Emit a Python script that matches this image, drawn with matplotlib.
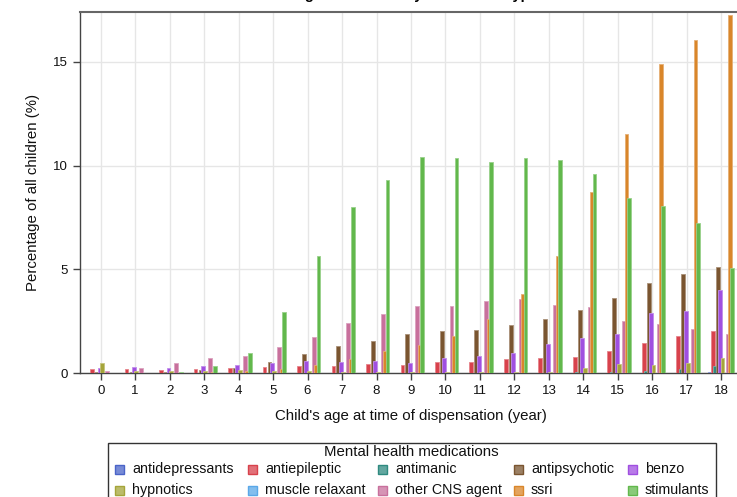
import numpy as np
import matplotlib
matplotlib.use("Agg")
import matplotlib.pyplot as plt
from matplotlib.patches import Rectangle
from matplotlib.colors import to_rgb

plt.rcParams['font.family'] = ['Liberation Sans', 'DejaVu Sans']

ages = list(range(19))
categories = ["antidepressants", "antiepileptic", "antimanic", "antipsychotic", "benzo",
              "hypnotics", "muscle relaxant", "other CNS agent", "ssri", "stimulants"]

antidepressants = [0.0, 0.0, 0.0, 0.0, 0.0, 0.0, 0.0, 0.0, 0.0, 0.0, 0.0, 0.0, 0.0, 0.0, 0.01, 0.02, 0.02, 0.02, 0.03]
antiepileptic = [0.18, 0.18, 0.16, 0.20, 0.23, 0.30, 0.32, 0.35, 0.42, 0.38, 0.51, 0.51, 0.67, 0.74, 0.77, 1.06, 1.45, 1.78, 2.02]
antimanic = [0.0, 0.0, 0.0, 0.0, 0.0, 0.0, 0.0, 0.0, 0.0, 0.0, 0.0, 0.0, 0.01, 0.02, 0.05, 0.05, 0.10, 0.21, 0.32]
antipsychotic = [0.04, 0.05, 0.06, 0.15, 0.23, 0.51, 0.90, 1.30, 1.54, 1.88, 2.02, 2.09, 2.29, 2.58, 3.05, 3.61, 4.32, 4.79, 5.09]
benzo = [0.24, 0.27, 0.26, 0.32, 0.37, 0.47, 0.59, 0.54, 0.59, 0.50, 0.72, 0.82, 0.98, 1.38, 1.69, 1.90, 2.87, 2.97, 4.02]
hypnotics = [0.48, 0.10, 0.08, 0.08, 0.15, 0.08, 0.08, 0.07, 0.06, 0.06, 0.06, 0.05, 0.06, 0.05, 0.26, 0.43, 0.37, 0.50, 0.71]
muscle_relaxant = [0.0, 0.0, 0.0, 0.0, 0.0, 0.0, 0.0, 0.0, 0.0, 0.0, 0.0, 0.0, 0.0, 0.01, 0.01, 0.01, 0.02, 0.02, 0.02]
other_cns_agent = [0.10, 0.24, 0.46, 0.71, 0.83, 1.27, 1.72, 2.39, 2.82, 3.21, 3.24, 3.48, 3.56, 3.30, 3.18, 2.52, 2.36, 2.14, 1.86]
ssri = [0.01, 0.01, 0.02, 0.04, 0.08, 0.18, 0.38, 0.67, 1.07, 1.35, 1.78, 2.60, 3.79, 5.63, 8.71, 11.52, 14.88, 16.04, 17.26]
stimulants = [0.02, 0.02, 0.04, 0.34, 0.96, 2.93, 5.63, 8.00, 9.31, 10.41, 10.35, 10.16, 10.37, 10.25, 9.57, 8.43, 8.07, 7.21, 5.07]

series = [antidepressants, antiepileptic, antimanic, antipsychotic, benzo,
          hypnotics, muscle_relaxant, other_cns_agent, ssri, stimulants]

bar_colors = ['#4a64c8', '#d8424c', '#2f8a80', '#7a5530', '#a04fe0',
              '#a5a53a', '#5aa8e8', '#c8709c', '#d9862a', '#62b84c']

def lighten(c, f):
    r, g, b = to_rgb(c)
    return (r + (1 - r) * f, g + (1 - g) * f, b + (1 - b) * f)

W, H = 737, 497
fig = plt.figure(figsize=(W / 100, H / 100), dpi=100)
ax = fig.add_axes([80 / W, (H - 373) / H, 662 / W, (373 - 12) / H])

x = np.array(ages, dtype=float)
step = 0.071
bw = 0.11
for i, (vals, col) in enumerate(zip(series, bar_colors)):
    ax.bar(x + (i - 4.5) * step, vals, width=bw, color=col,
           edgecolor=lighten(col, 0.35), linewidth=0.6, zorder=3 + i * 0.01)

ax.set_xlim(-0.6, 18.6)
ax.set_ylim(0, 17.4)
ax.set_xticks(ages)
ax.set_xticklabels([str(a) for a in ages])
ax.set_yticks([0, 5, 10, 15])
ax.grid(True, color='#e6e6e6', linewidth=1.0, zorder=0)
ax.set_axisbelow(True)
for s in ['left', 'bottom']:
    ax.spines[s].set_color('#444444')
    ax.spines[s].set_linewidth(1.0)
ax.spines['top'].set_color('#666666')
ax.spines['top'].set_linewidth(1.5)
ax.spines['right'].set_visible(False)
ax.tick_params(axis='both', direction='out', length=5, width=1, color='#444444',
               labelsize=9.5, labelcolor='#111111', pad=4)

ax.set_xlabel("Child's age at time of dispensation (year)", fontsize=10.8, labelpad=8, color='#111111')
ax.set_ylabel("Percentage of all children (%)", fontsize=10.8, labelpad=9, color='#111111')

fig.text(390 / W, 1.0 + 1 / H, "Percentage of children by medication type",
         ha='center', va='baseline', fontsize=10.5, fontweight='bold')

# legend (manual, row-major layout as in reference)
fig.patches.append(Rectangle((108 / W, (H - 525) / H), 608 / W, 82 / H,
                             transform=fig.transFigure, fill=False,
                             edgecolor='#333333', linewidth=1.0))
fig.text(411 / W, (H - 452) / H, "Mental health medications", ha='center', va='center',
         fontsize=10.8, color='#111111')
text_x = [132, 265, 395, 531, 645]
row_y = [469, 490]
for k, (name, col) in enumerate(zip(categories, bar_colors)):
    r, c = divmod(k, 5)
    tx = text_x[c]
    my = row_y[r]
    fig.patches.append(Rectangle(((tx - 17) / W, (H - my - 4.5) / H), 9 / W, 9 / H,
                                 transform=fig.transFigure,
                                 facecolor=lighten(col, 0.25), edgecolor=col, linewidth=1.0))
    fig.text(tx / W, (H - my) / H, name, ha='left', va='center',
             fontsize=10.3, color='#111111')

fig.savefig("out.png", dpi=100)
